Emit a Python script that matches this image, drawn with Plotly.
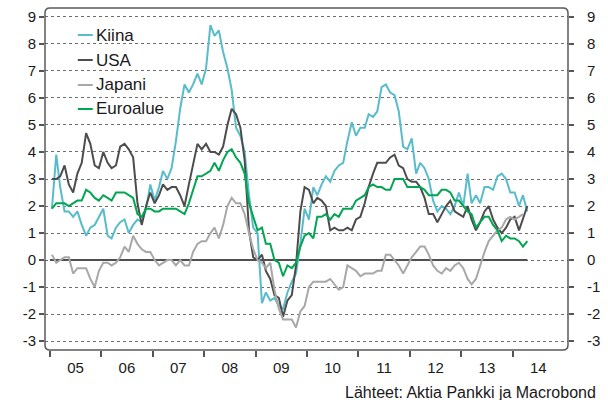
import pandas as pd
import plotly.graph_objects as go

# Monthly year-on-year consumer price inflation, %, Jan 2005 onwards
kiina = [
    1.9, 3.9, 2.7, 1.8, 1.8, 1.6, 1.8, 1.3, 0.9, 1.2, 1.3, 1.6,
    1.9, 0.9, 0.8, 1.2, 1.4, 1.5, 1.0, 1.3, 1.5, 1.4, 1.9, 2.8,
    2.2, 2.7, 3.3, 3.0, 3.4, 4.4, 5.6, 6.5, 6.2, 6.5, 6.9, 6.5,
    7.1, 8.7, 8.3, 8.5, 7.7, 7.1, 6.3, 4.9, 4.6, 4.0, 2.4, 1.2,
    1.0, -1.6, -1.2, -1.5, -1.4, -1.7, -1.8, -1.2, -0.8, -0.5, 0.6, 1.9,
    1.5, 2.7, 2.4, 2.8, 3.1, 2.9, 3.3, 3.5, 3.6, 4.4, 5.1, 4.6,
    4.9, 4.9, 5.4, 5.3, 5.5, 6.4, 6.5, 6.2, 6.1, 5.5, 4.2, 4.1,
    4.5, 3.2, 3.6, 3.4, 3.0, 2.2, 1.8, 2.0, 1.9, 1.7, 2.0, 2.5,
    2.0, 3.2, 2.1, 2.4, 2.1, 2.7, 2.7, 2.6, 3.1, 3.2, 3.0, 2.5,
    2.5, 2.0, 2.4, 1.8,
]
usa = [
    3.0, 3.0, 3.1, 3.5, 2.8, 2.5, 3.2, 3.6, 4.7, 4.3, 3.5, 3.4,
    4.0, 3.6, 3.4, 3.5, 4.2, 4.3, 4.1, 3.8, 2.1, 1.3, 2.0, 2.5,
    2.1, 2.4, 2.8, 2.6, 2.7, 2.7, 2.4, 2.0, 2.8, 3.5, 4.3, 4.1,
    4.3, 4.0, 4.0, 3.9, 4.2, 5.0, 5.6, 5.4, 4.9, 3.7, 1.1, 0.1,
    0.0, 0.2, -0.4, -0.7, -1.3, -1.4, -2.1, -1.5, -1.3, -0.2, 1.8, 2.7,
    2.6, 2.1, 2.3, 2.2, 2.0, 1.1, 1.2, 1.1, 1.1, 1.2, 1.1, 1.5,
    1.6, 2.1, 2.7, 3.2, 3.6, 3.6, 3.6, 3.8, 3.9, 3.5, 3.4, 3.0,
    2.9, 2.9, 2.7, 2.3, 1.7, 1.7, 1.4, 1.7, 2.0, 2.2, 1.8, 1.7,
    1.6, 2.0, 1.5, 1.1, 1.4, 1.8, 2.0, 1.5, 1.2, 1.0, 1.2, 1.5,
    1.6, 1.1, 1.5, 2.0,
]
japani = [
    0.2, -0.1, 0.0, 0.1, 0.1, -0.5, -0.3, -0.3, -0.3, -0.7, -1.0, -0.4,
    -0.1, -0.1, -0.2, -0.1, 0.1, 0.5, 0.3, 0.9, 0.6, 0.4, 0.3, 0.3,
    0.0, -0.2, -0.1, 0.0, 0.0, -0.2, 0.0, -0.2, -0.2, 0.3, 0.6, 0.7,
    0.7, 1.0, 1.2, 0.8, 1.3, 2.0, 2.3, 2.1, 2.1, 1.7, 1.0, 0.4,
    0.0, -0.1, -0.3, -0.1, -1.1, -1.8, -2.2, -2.2, -2.2, -2.5, -1.9, -1.7,
    -1.0, -0.8, -0.8, -0.8, -0.8, -0.7, -0.9, -1.1, -1.0, -0.2, -0.3, -0.4,
    -0.6, -0.5, -0.5, -0.5, -0.4, -0.4, 0.2, 0.2, 0.0, -0.2, -0.5, -0.2,
    0.1, 0.3, 0.5, 0.5, 0.2, -0.2, -0.4, -0.5, -0.3, -0.4, -0.2, -0.1,
    -0.3, -0.7, -0.9, -0.7, -0.2, 0.3, 0.7, 0.9, 1.1, 1.2, 1.5, 1.6,
    1.5, 1.6, 1.7,
]
euroalue = [
    1.9, 2.1, 2.1, 2.1, 2.0, 2.1, 2.2, 2.2, 2.6, 2.5, 2.3, 2.2,
    2.4, 2.3, 2.2, 2.5, 2.5, 2.5, 2.4, 2.3, 1.7, 1.6, 1.9, 1.9,
    1.8, 1.8, 1.9, 1.9, 1.9, 1.9, 1.8, 1.7, 2.1, 2.6, 3.1, 3.1,
    3.2, 3.3, 3.6, 3.3, 3.7, 4.0, 4.1, 3.8, 3.6, 3.2, 2.1, 1.6,
    1.1, 1.2, 0.6, 0.6, 0.0, -0.1, -0.6, -0.2, -0.3, -0.1, 0.5, 0.9,
    1.0, 0.8, 1.6, 1.6, 1.7, 1.5, 1.7, 1.6, 1.9, 1.9, 1.9, 2.2,
    2.3, 2.4, 2.7, 2.8, 2.7, 2.7, 2.6, 2.6, 3.0, 3.0, 3.0, 2.7,
    2.7, 2.7, 2.7, 2.6, 2.4, 2.4, 2.4, 2.6, 2.6, 2.5, 2.2, 2.2,
    2.0, 1.8, 1.7, 1.2, 1.4, 1.6, 1.6, 1.3, 1.1, 0.7, 0.9, 0.8,
    0.8, 0.7, 0.5, 0.7,
]

series_names = ["Kiina", "USA", "Japani", "Euroalue"]
series_values = [kiina, usa, japani, euroalue]
series_colors = ["#58bccb", "#4d4d4d", "#a8a8a8", "#00a651"]

years = list(range(2005, 2015))
year_labels = ["05", "06", "07", "08", "09", "10", "11", "12", "13", "14"]
y_ticks = list(range(-3, 10))
y_ticktext = [str(v) for v in y_ticks]  # plain hyphen for negatives

source_text = "Lähteet: Aktia Pankki ja Macrobond"

# mid-month dates
months = pd.date_range("2005-01-01", periods=len(kiina), freq="MS") + pd.Timedelta(days=14)

FONT = "Liberation Sans, Arial, sans-serif"
TXT = "#1a1a1a"
AX = "#555555"

W, H = 608, 400
ML, MR, MT, MB = 45, 37, 8, 50
PW, PH = W - ML - MR, H - MT - MB

x_range = ["2004-11-27", "2015-01-29"]
y_range = [-3.33, 9.33]

fig = go.Figure()
for i, (name, vals, col) in enumerate(zip(series_names, series_values, series_colors)):
    # the last series sits on the overlay axes (same ranges), which also
    # carry the year labels and the right-hand value labels
    last = i == len(series_names) - 1
    fig.add_trace(go.Scatter(
        x=months[:len(vals)], y=vals, name=name, mode="lines",
        line=dict(color=col, width=2), showlegend=False,
        xaxis="x2" if last else "x", yaxis="y2" if last else "y",
    ))

year_starts = [f"{y}-01-01" for y in years]
year_mids = [f"{y}-07-02" for y in years]

shapes = []
# zero line over the data span
shapes.append(dict(
    type="line", xref="x", yref="y", layer="between",
    x0="2005-01-01", x1=months[-1], y0=0, y1=0,
    line=dict(color="#505050", width=2),
))

# rounded plot frame (paper coordinates)
rx, ry = 5 / PW, 5 / PH
frame = (
    f"M {rx},0 L {1 - rx},0 Q 1,0 1,{ry} L 1,{1 - ry} Q 1,1 {1 - rx},1 "
    f"L {rx},1 Q 0,1 0,{1 - ry} L 0,{ry} Q 0,0 {rx},0 Z"
)
shapes.append(dict(type="path", xref="paper", yref="paper", path=frame,
                   line=dict(color="#5a5a5a", width=1.5), layer="above"))

annotations = []
# legend: short line sample plus label
leg_y_px = [35, 60, 85, 109]
for name, col, py in zip(series_names, series_colors, leg_y_px):
    yp = (H - MB - py) / PH
    shapes.append(dict(
        type="line", xref="paper", yref="paper",
        x0=(78 - ML) / PW, x1=(93 - ML) / PW, y0=yp, y1=yp,
        line=dict(color=col, width=2),
    ))
    annotations.append(dict(
        xref="paper", yref="paper", x=(94 - ML) / PW, y=yp,
        xanchor="left", yanchor="middle", text=name, showarrow=False,
        font=dict(family=FONT, size=17, color=TXT),
    ))

annotations.append(dict(
    xref="paper", yref="paper", x=(601 - ML) / PW, y=(H - MB - 392) / PH,
    xanchor="right", yanchor="middle", text=source_text, showarrow=False,
    font=dict(family=FONT, size=16, color=TXT),
))

yaxis_common = dict(
    range=y_range, tickmode="array", tickvals=y_ticks, ticktext=y_ticktext,
    ticks="outside", ticklen=5, tickwidth=1.5, tickcolor=AX,
    showline=False, zeroline=False,
    tickfont=dict(family=FONT, size=15, color=TXT),
)

fig.update_layout(
    width=W, height=H,
    margin=dict(l=ML, r=MR, t=MT, b=MB, pad=0),
    paper_bgcolor="white", plot_bgcolor="white",
    showlegend=False,
    xaxis=dict(
        type="date", range=x_range, tickmode="array", tickvals=year_starts,
        showticklabels=False, ticks="outside", ticklen=6, tickwidth=1.5,
        tickcolor=AX, showgrid=False, showline=False, zeroline=False,
    ),
    xaxis2=dict(
        type="date", range=x_range, overlaying="x", side="bottom", anchor="y2",
        tickmode="array", tickvals=year_mids, ticktext=year_labels,
        ticks="", showgrid=False, showline=False, zeroline=False,
        ticklabelstandoff=7,
        tickfont=dict(family=FONT, size=15, color=TXT),
    ),
    yaxis=dict(
        **yaxis_common, side="left",
        showgrid=True, griddash="dot", gridcolor="#6e6e6e", gridwidth=1,
    ),
    yaxis2=dict(
        **yaxis_common, side="right", overlaying="y", anchor="x2",
        showgrid=False, ticklabelstandoff=10,
    ),
    shapes=shapes,
    annotations=annotations,
)

fig.write_html("out.html")
